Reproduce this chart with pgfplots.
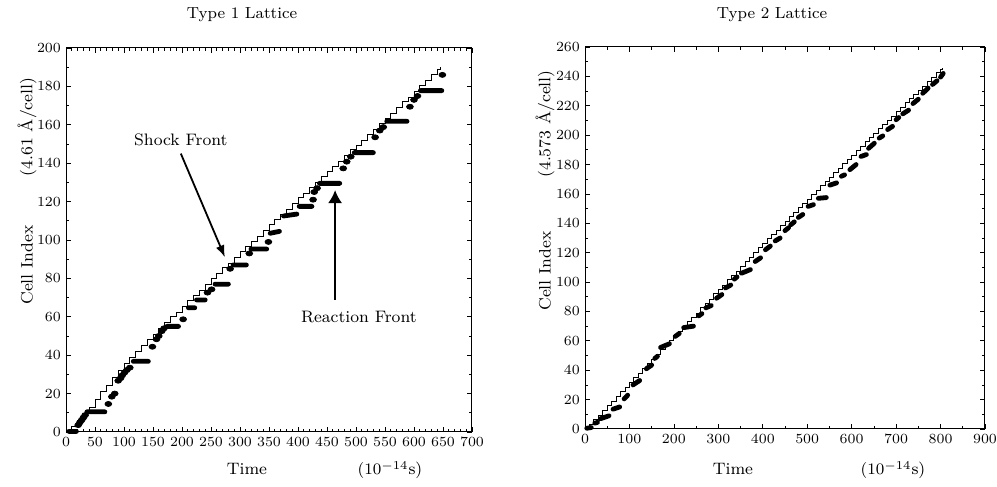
\documentclass[border=0pt]{standalone}
\usepackage{pgfplots}
\pgfplotsset{compat=1.18}
\usetikzlibrary{arrows.meta}
\begin{document}
\begin{tikzpicture}
\path[use as bounding box] (0,0) rectangle (498.5pt,243.5pt);
\pgfplotsset{
  every axis/.append style={
    scale only axis, anchor=south west, clip=false,
    tick align=inside, major tick length=2.5pt, minor tick length=1.4pt,
    tick style={black, line width=0.35pt},
    axis line style={line width=0.5pt},
    ticklabel style={font=\fontsize{7.3}{8}\selectfont},
    xticklabel style={yshift=1pt},
    yticklabel style={xshift=1pt},
  },
  shock/.style={const plot, black, line width=0.4pt, no marks},
  rseg/.style={black, line width=2.4pt, line cap=round, no marks, unbounded coords=jump},
  rdot/.style={black, only marks, mark=*, mark size=1.25pt, mark options={xscale=1.35}},
}
% ---------------- Left: Type 1 lattice ----------------
\begin{axis}[at={(33pt,27.5pt)}, width=203pt, height=192pt,
  xmin=0, xmax=700, ymin=0, ymax=200,
  xtick distance=50, ytick distance=20, minor x tick num=4, minor y tick num=1]
\addplot[shock] coordinates {
(0,0)(10,3)(20,6)(30,9.5)(40,13)(50,17)(60,21)(70,24.5)(80,28.5)(90,32)
(100,35.5)(110,39)(120,42)(130,45)(140,48)(150,51)(160,54)(170,57)(180,60)(190,62.5)
(200,65.5)(210,68.5)(220,71)(230,74)(240,77)(250,80)(260,82.5)(270,85.5)(280,88)(290,91)
(300,94)(310,96.5)(320,99.5)(330,102)(340,105)(350,108)(360,110.5)(370,113.5)(380,116)(390,119)
(400,122)(410,124.5)(420,127.5)(430,130)(440,133)(450,135.5)(460,138.5)(470,141)(480,144)(490,147)
(500,149.5)(510,152)(520,155)(530,157.5)(540,160.5)(550,163.5)(560,166)(570,169)(580,172)(590,174.5)
(600,177.5)(610,180.5)(620,183)(630,186)(640,189)(645,190)};
\addplot[rseg] coordinates {
(5,0.3)(18,0.3)(18,nan)
(36,10.5)(67,10.5)(67,nan)
(116,36.8)(142,36.8)(142,nan)
(174,55)(194,55)(194,nan)
(211,64.7)(222,64.7)(222,nan)
(225,68.8)(240,68.8)(240,nan)
(257,77)(280,77)(280,nan)
(288,87)(311,87)(311,nan)
(319,95.3)(346,95.3)(346,nan)
(352,103.5)(368,104.5)(368,nan)
(375,112.5)(398,113.5)(398,nan)
(402,117.5)(424,117.5)(424,nan)
(437,129.5)(472,129.5)(472,nan)
(497,145.5)(530,145.5)(530,nan)
(553,161.8)(588,161.8)(588,nan)
(611,177.8)(648,177.8)};
\addplot[rdot] coordinates {
(21,3.6)(24,5)(27,6.2)(30,7.5)(33,8.8)
(73,14.6)(79,18.4)(84,20)
(90,26.7)(94,28)(97,29.5)(101,31)(105,32.3)(110,33.5)
(149,44.4)(156,48.3)(160,50)(165,52.5)(169,54)
(202,58.7)(244,72.6)(251,74.3)(283,85)(316,93)(349,99)
(426,121)(428,125)(433,127)
(478,137.3)(484,140.8)(491,143.4)
(533,153.5)(541,157)(547,158.8)
(593,169.4)(600,173)(606,175)(649,186)};
\node[font=\fontsize{8.3}{10}\selectfont] at (axis cs:198,152) {Shock Front};
\draw[line width=0.9pt, -{Latex[length=6pt,width=4.5pt]}] (axis cs:198,145) -- (axis cs:274,91);
\node[font=\fontsize{8.3}{10}\selectfont] at (axis cs:505,60) {Reaction Front};
\draw[line width=0.9pt, -{Latex[length=6.5pt,width=7pt]}] (axis cs:464,69) -- (axis cs:464,126);
\end{axis}
% ---------------- Right: Type 2 lattice ----------------
\begin{axis}[at={(292.5pt,29pt)}, width=200pt, height=191pt,
  xmin=0, xmax=900, ymin=0, ymax=260,
  xtick distance=100, ytick distance=20, minor x tick num=1, minor y tick num=1]
\addplot[shock] coordinates {
(0,0)(10,3)(20,6.5)(30,9.5)(40,12.5)(50,16)(60,19)(70,22)(80,25.5)(90,28.5)
(100,31.5)(110,35)(120,38)(130,41)(140,44.5)(150,47.5)(160,50.5)(170,54)(180,57)(190,60)
(200,63.5)(210,66.5)(220,69.5)(230,73)(240,76)(250,79)(260,82.5)(270,85.5)(280,88.5)(290,92)
(300,95)(310,98)(320,101.5)(330,104.5)(340,107.5)(350,111)(360,114)(370,117)(380,120.5)(390,123.5)
(400,126.5)(410,129.5)(420,132.5)(430,135.5)(440,138.5)(450,141.5)(460,144.5)(470,147.5)(480,150.5)(490,153.5)
(500,156.5)(510,159.5)(520,162.5)(530,165.5)(540,168.5)(550,171.5)(560,174.5)(570,177.5)(580,180.5)(590,183.5)
(600,186.5)(610,189.5)(620,192.5)(630,195.5)(640,198.5)(650,201.5)(660,204.5)(670,207.5)(680,210)(690,213)
(700,216)(710,219)(720,222)(730,225)(740,227.5)(750,230.5)(760,233.5)(770,236.5)(780,239.5)(790,242.5)
(800,245)(805,246)};
\addplot[rseg] coordinates {
(4,0.5)(14,1)(14,nan)
(22,4)(28,4.5)(28,nan)
(35,7)(54,9)(54,nan)
(63,13.5)(78,15)(78,nan)
(88,20.5)(96,23)(96,nan)
(108,30)(123,33)(123,nan)
(138,41)(150,43.5)(150,nan)
(157,48)(163,49.5)(163,nan)
(170,55.5)(190,58)(190,nan)
(203,63)(212,65)(212,nan)
(222,69)(244,70)(244,nan)
(256,77)(263,78.5)(263,nan)
(272,82.5)(284,84)(284,nan)
(296,89)(308,91.5)(308,nan)
(316,96)(328,98)(328,nan)
(336,102)(342,103.5)(342,nan)
(352,106)(372,108.5)(372,nan)
(383,114)(395,116.5)(395,nan)
(406,122)(417,124.5)(417,nan)
(428,128)(439,130)(439,nan)
(450,135)(458,137)(458,nan)
(463,139)(471,141)(471,nan)
(480,144)(490,146)(490,nan)
(502,151.5)(514,152.7)(514,nan)
(525,157)(543,157.5)(543,nan)
(551,166)(566,167.5)(566,nan)
(577,172)(584,173)(584,nan)
(596,176.5)(610,180)(610,nan)
(621,185.5)(633,186.8)(633,nan)
(638,191)(651,194.5)(651,nan)
(662,198)(670,199.5)(670,nan)
(681,203.8)(692,206)(692,nan)
(700,210.5)(706,212)(706,nan)
(715,214.5)(728,217)(728,nan)
(738,221.5)(750,224.5)(750,nan)
(760,228.5)(772,232)(772,nan)
(782,234.5)(792,237)(792,nan)
(800,239.5)(806,242)};
\end{axis}
% ---------------- Titles and labels ----------------
\node[font=\fontsize{8}{9}\selectfont] at (121pt,236pt) {Type 1 Lattice};
\node[font=\fontsize{8}{9}\selectfont] at (386pt,236pt) {Type 2 Lattice};
\node[font=\fontsize{8.3}{10}\selectfont, anchor=base] at (123.5pt,6pt) {Time};
\node[font=\fontsize{8.3}{10}\selectfont, anchor=base] at (195pt,6pt) {$(10^{-14}$s)};
\node[font=\fontsize{8.3}{10}\selectfont, anchor=base] at (366.5pt,6pt) {Time};
\node[font=\fontsize{8.3}{10}\selectfont, anchor=base] at (446.5pt,6pt) {$(10^{-14}$s)};
\node[font=\fontsize{8.3}{10}\selectfont, rotate=90] at (13.5pt,111pt) {Cell Index};
\node[font=\fontsize{8.3}{10}\selectfont, rotate=90] at (13.5pt,180pt) {(4.61 \AA/cell)};
\node[font=\fontsize{8.3}{10}\selectfont, rotate=90] at (272.5pt,108pt) {Cell Index};
\node[font=\fontsize{8.3}{10}\selectfont, rotate=90] at (272.5pt,181.5pt) {(4.573 \AA/cell)};
\end{tikzpicture}
\end{document}
